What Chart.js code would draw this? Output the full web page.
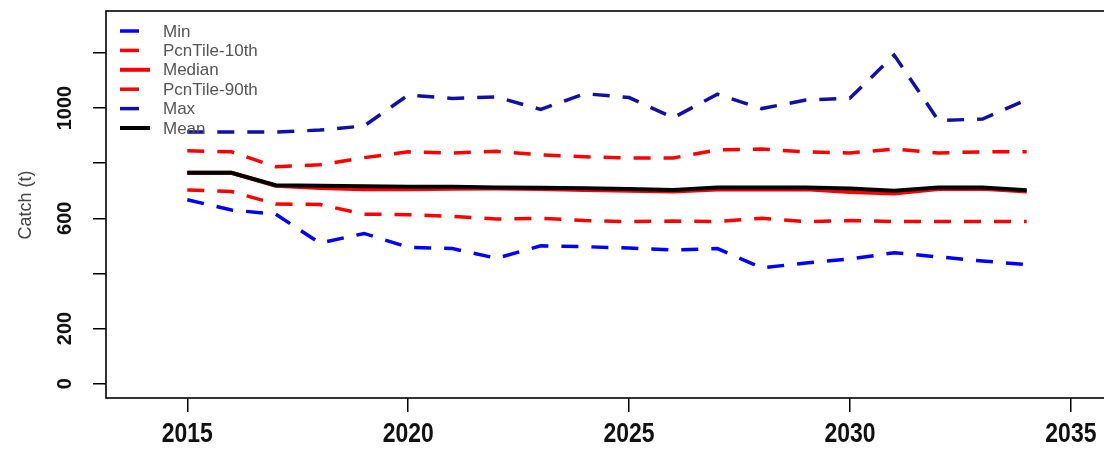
<!DOCTYPE html>
<html>
<head>
<meta charset="utf-8">
<script src="https://cdn.jsdelivr.net/npm/chart.js@4.4.1/dist/chart.umd.min.js"></script>
<style>
  html, body { margin: 0; padding: 0; background: #fff; overflow: hidden; }
  #wrap { position: absolute; left: 0; top: 0; width: 1110px; height: 451px; }
  canvas { display: block; }
</style>
</head>
<body>
<div id="wrap"><canvas id="catch-chart" width="1110" height="451"></canvas></div>
<script>
// Projected catch by year
const years = [2015, 2016, 2017, 2018, 2019, 2020, 2021, 2022, 2023, 2024, 2025, 2026, 2027, 2028, 2029, 2030, 2031, 2032, 2033, 2034];
const minCatch = [667, 630, 615, 510, 545, 495, 490, 455, 500, 497, 492, 485, 490, 420, 438, 452, 475, 460, 445, 432];
const pct10Catch = [703, 697, 652, 650, 615, 613, 607, 597, 600, 592, 588, 590, 588, 600, 588, 592, 588, 588, 588, 588];
const medianCatch = [765, 765, 718, 710, 705, 705, 707, 708, 706, 703, 700, 697, 704, 704, 705, 695, 690, 706, 707, 697];
const pct90Catch = [845, 841, 787, 794, 820, 841, 837, 843, 830, 823, 819, 819, 848, 851, 841, 837, 851, 837, 841, 841];
const maxCatch = [913, 913, 913, 920, 935, 1047, 1035, 1040, 995, 1052, 1038, 965, 1050, 998, 1029, 1036, 1192, 955, 960, 1030];
const meanCatch = [765, 765, 720, 718, 716, 714, 714, 712, 711, 709, 706, 703, 712, 712, 712, 708, 700, 712, 712, 702];

const seriesLabels = ['Min', 'PcnTile-10th', 'Median', 'PcnTile-90th', 'Max', 'Mean'];
const seriesValues = [minCatch, pct10Catch, medianCatch, pct90Catch, maxCatch, meanCatch];
const seriesColors = ['#0000ff', '#ff0000', '#ff0000', '#ff0000', '#1010a8', '#000000'];
const seriesDashed = [true, true, false, true, true, false];

const xTicks = [2015, 2020, 2025, 2030, 2035];
const yTicks = [0, 200, 400, 600, 800, 1000, 1200];
const yLabels = [0, 200, 600, 1000];

const DASH = [17, 13];

const datasets = seriesLabels.map((label, i) => ({
    label: label,
    data: years.map((yr, j) => ({ x: yr, y: seriesValues[i][j] })),
    borderColor: seriesColors[i],
    borderWidth: seriesDashed[i] ? 3.5 : 4,
    borderDash: seriesDashed[i] ? DASH : [],
    pointRadius: 0,
    tension: 0,
    fill: false,
    order: seriesLabels.length - i
}));

// Box, axis labels (R style), axis title and legend are drawn here
const framePlugin = {
    id: 'frame',
    afterDraw(chart) {
        const ctx = chart.ctx;
        const area = chart.chartArea;
        const xScale = chart.scales.x;
        const yScale = chart.scales.y;
        ctx.save();

        ctx.strokeStyle = '#000';
        ctx.lineWidth = 1.6;
        ctx.strokeRect(area.left, area.top, area.right - area.left, area.bottom - area.top);

        // x tick labels, narrow bold
        ctx.fillStyle = '#111';
        ctx.font = 'bold 28px "Liberation Sans", Arial, sans-serif';
        ctx.textAlign = 'center';
        ctx.textBaseline = 'middle';
        xTicks.forEach(v => {
            ctx.save();
            ctx.translate(xScale.getPixelForValue(v), 434);
            ctx.scale(0.82, 1);
            ctx.fillText(String(v), 0, 0);
            ctx.restore();
        });

        // y tick labels, vertical like R's default las=0
        ctx.font = 'bold 20px "Liberation Sans", Arial, sans-serif';
        yLabels.forEach(v => {
            ctx.save();
            ctx.translate(65, yScale.getPixelForValue(v));
            ctx.rotate(-Math.PI / 2);
            ctx.fillText(String(v), 0, 0);
            ctx.restore();
        });

        // y axis title
        ctx.save();
        ctx.fillStyle = '#444';
        ctx.font = '18px "Liberation Sans", Arial, sans-serif';
        ctx.translate(26, 205);
        ctx.rotate(-Math.PI / 2);
        ctx.fillText('Catch (t)', 0, 0);
        ctx.restore();

        // legend, no box
        ctx.font = '17px "Liberation Sans", Arial, sans-serif';
        ctx.textAlign = 'left';
        seriesLabels.forEach((label, i) => {
            const y = 31 + i * 19.4;
            ctx.beginPath();
            ctx.strokeStyle = seriesColors[i];
            ctx.lineWidth = seriesDashed[i] ? 3.5 : 4;
            ctx.setLineDash(seriesDashed[i] ? [19, 11] : []);
            ctx.moveTo(120, y);
            ctx.lineTo(150, y);
            ctx.stroke();
            ctx.setLineDash([]);
            ctx.fillStyle = '#555';
            ctx.fillText(label, 163, y + 1);
        });

        ctx.restore();
    }
};

const ctx = document.getElementById('catch-chart').getContext('2d');
new Chart(ctx, {
    type: 'line',
    data: { datasets: datasets },
    options: {
        responsive: false,
        devicePixelRatio: 1,
        animation: false,
        layout: { padding: { top: 11, right: 2, left: 0, bottom: 0 } },
        plugins: { legend: { display: false }, tooltip: { enabled: false } },
        scales: {
            x: {
                type: 'linear',
                min: 2013.16,
                max: 2035.84,
                afterBuildTicks: (scale) => { scale.ticks = xTicks.map(v => ({ value: v })); },
                afterFit: (scale) => { scale.height = 53; },
                border: { display: false },
                grid: { drawOnChartArea: false, drawTicks: true, tickLength: 14, color: '#000', lineWidth: 1.5 },
                ticks: { display: false }
            },
            y: {
                type: 'linear',
                min: -52,
                max: 1352,
                afterBuildTicks: (scale) => { scale.ticks = yTicks.map(v => ({ value: v })); },
                afterFit: (scale) => { scale.width = 106; },
                border: { display: false },
                grid: { drawOnChartArea: false, drawTicks: true, tickLength: 13, color: '#000', lineWidth: 1.5 },
                ticks: { display: false }
            }
        }
    },
    plugins: [framePlugin]
});
</script>
</body>
</html>
